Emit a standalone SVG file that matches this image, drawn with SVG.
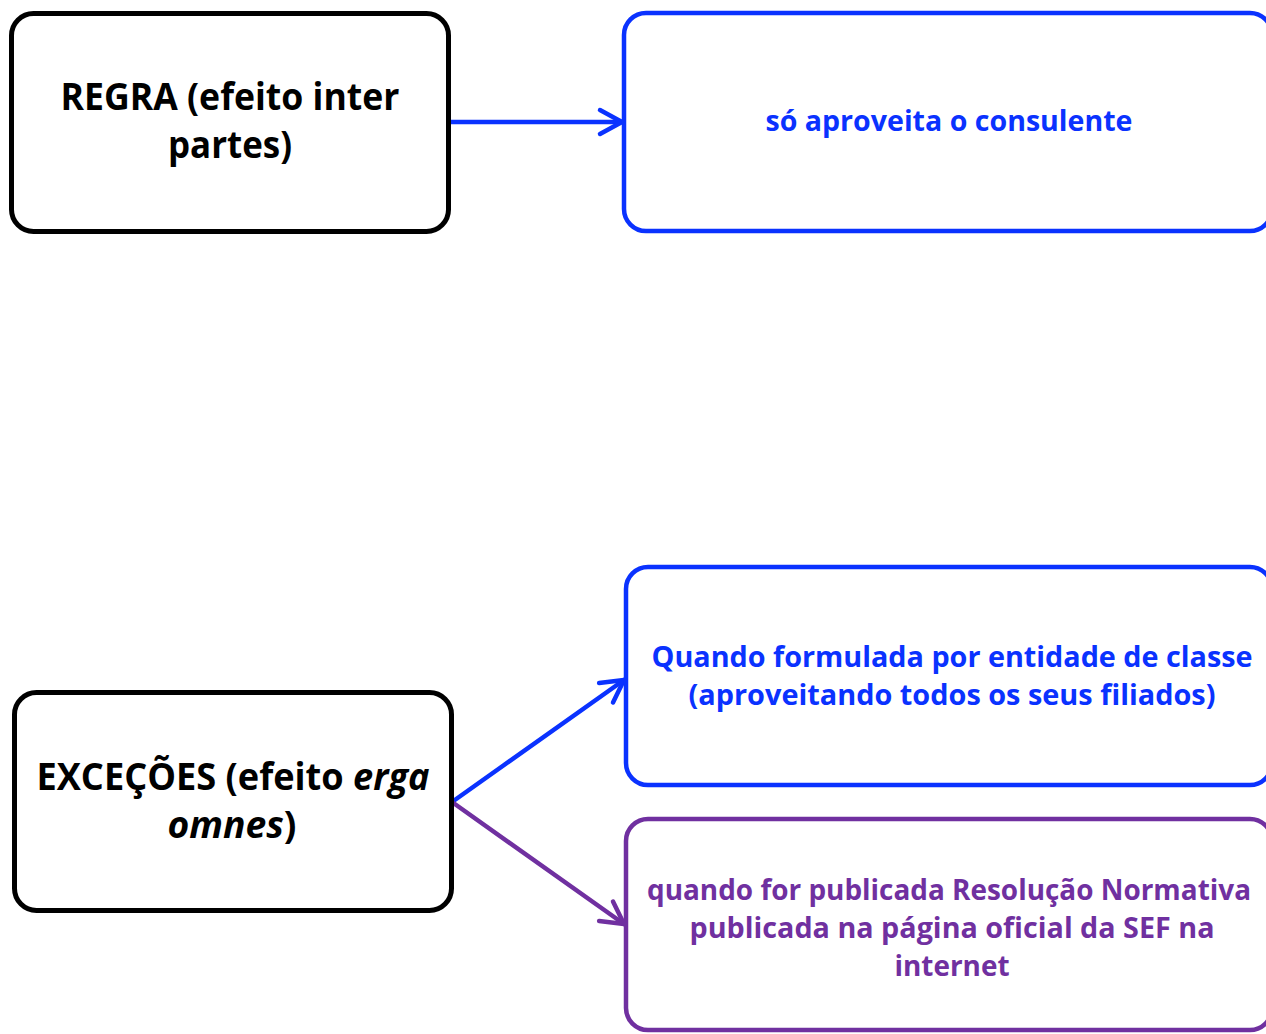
<svg xmlns="http://www.w3.org/2000/svg" width="1266" height="1034" viewBox="0 0 1266 1034">
<defs>
<style>
.box{fill:#fff;}
.blk{stroke:#000;stroke-width:5;}
.blu{stroke:#0a32ff;stroke-width:4.5;}
.pur{stroke:#7030a0;stroke-width:4.5;}
text{font-family:"Open Sans","Noto Sans",sans-serif;font-weight:bold;text-anchor:middle;}
.tb{fill:#000;font-size:37px;}
.tu{fill:#0a32ff;font-size:29px;}
.tp{fill:#7030a0;font-size:29px;}
.ln{fill:none;stroke-width:4.5;stroke-linecap:round;}
</style>
<marker id="ab" markerUnits="userSpaceOnUse" markerWidth="32" markerHeight="32" refX="26" refY="16" orient="auto" overflow="visible">
<path d="M4,4 L26,16 L4,28" fill="none" stroke="#0a32ff" stroke-width="4.5" stroke-linecap="round" stroke-linejoin="round"/>
</marker>
<marker id="ap" markerUnits="userSpaceOnUse" markerWidth="32" markerHeight="32" refX="26" refY="16" orient="auto" overflow="visible">
<path d="M4,4 L26,16 L4,28" fill="none" stroke="#7030a0" stroke-width="4.5" stroke-linecap="round" stroke-linejoin="round"/>
</marker>
</defs>
<rect width="1266" height="1034" fill="#fff"/>
<g id="connectors">
<line class="ln" x1="451" y1="122" x2="622" y2="122" stroke="#0a32ff" marker-end="url(#ab)"/>
<line class="ln" x1="452" y1="802" x2="624" y2="680" stroke="#0a32ff" marker-end="url(#ab)"/>
<line class="ln" x1="452" y1="802" x2="624" y2="924" stroke="#7030a0" marker-end="url(#ap)"/>
</g>
<g id="regra">
<rect class="box blk" x="11.5" y="13.5" width="437" height="218" rx="22"/>
<text class="tb" x="230" y="110" textLength="339" lengthAdjust="spacingAndGlyphs">REGRA (efeito inter</text>
<text class="tb" x="230" y="158" textLength="124" lengthAdjust="spacingAndGlyphs">partes)</text>
</g>
<g id="consulente">
<rect class="box blu" x="624" y="13" width="648" height="218" rx="22"/>
<text class="tu" x="949" y="131" textLength="367" lengthAdjust="spacingAndGlyphs">só aproveita o consulente</text>
</g>
<g id="excecoes">
<rect class="box blk" x="14.5" y="692.5" width="437" height="218" rx="22"/>
<text class="tb" x="233" y="790" textLength="393" lengthAdjust="spacingAndGlyphs">EXCEÇÕES (efeito <tspan font-style="italic">erga</tspan></text>
<text class="tb" x="232" y="838" textLength="129" lengthAdjust="spacingAndGlyphs"><tspan font-style="italic">omnes</tspan>)</text>
</g>
<g id="entidade">
<rect class="box blu" x="626" y="567" width="646" height="218" rx="22"/>
<text class="tu" x="952" y="667" textLength="601" lengthAdjust="spacingAndGlyphs">Quando formulada por entidade de classe</text>
<text class="tu" x="952" y="705" textLength="527" lengthAdjust="spacingAndGlyphs">(aproveitando todos os seus filiados)</text>
</g>
<g id="resolucao">
<rect class="box pur" x="626" y="819" width="646" height="211" rx="22"/>
<text class="tp" x="949" y="900" textLength="604" lengthAdjust="spacingAndGlyphs">quando for publicada Resolução Normativa</text>
<text class="tp" x="952" y="938" textLength="525" lengthAdjust="spacingAndGlyphs">publicada na página oficial da SEF na</text>
<text class="tp" x="952" y="976" textLength="115" lengthAdjust="spacingAndGlyphs">internet</text>
</g>
</svg>
